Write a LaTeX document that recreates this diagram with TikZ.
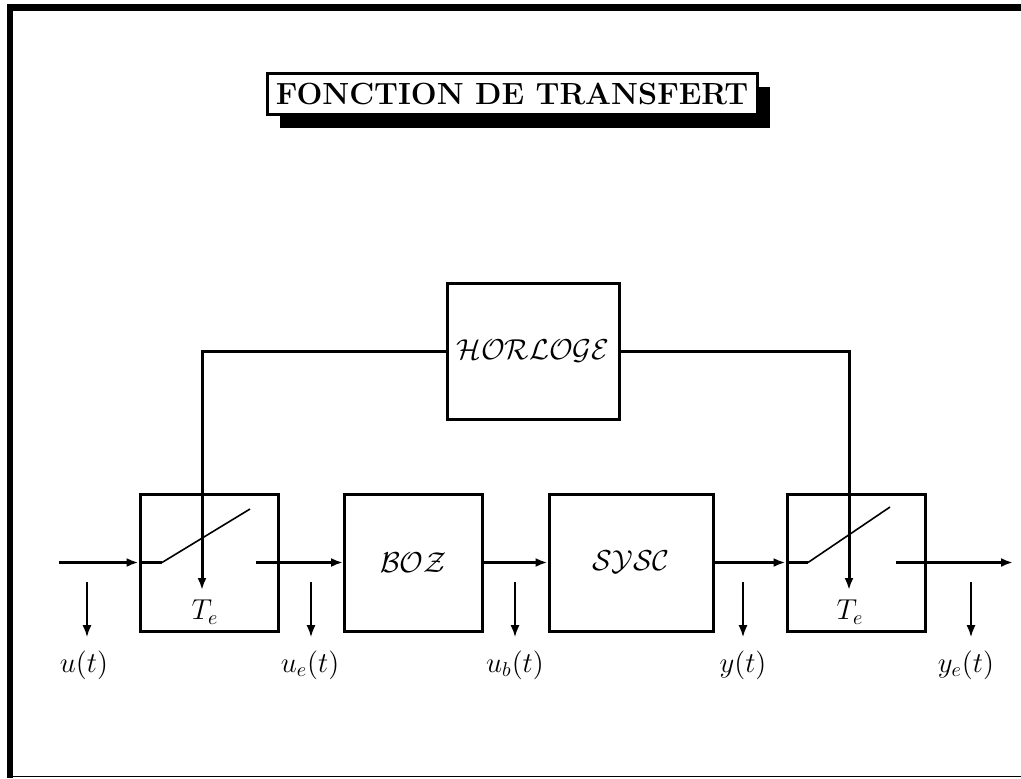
\documentclass[tikz,border=0pt]{standalone}
\usepackage{amsmath,amssymb}
\usepackage{tikz}
\usetikzlibrary{arrows.meta, positioning}
\usetikzlibrary{shadows}
\usetikzlibrary{calc}

\begin{document}
\begin{tikzpicture}[x=0.5pt, y=-0.5pt,
    bloc/.style={draw, line width=1.5pt, minimum width=69pt, minimum height=68.5pt, inner sep=0pt, font=\Large},
    sig/.style={line width=1.5pt, -{Latex[length=6pt, width=4.5pt]}},
    fil/.style={line width=1.5pt},
    interr/.style={line width=0.8pt},
    mesure/.style={line width=1pt, -{Latex[length=6pt, width=4.5pt]}},
    etiq/.style={font=\Large, inner sep=0pt}]
        \useasboundingbox (0,0) rectangle (1021,778);

        % cadre de la page
        \draw[line width=3.5pt] (7,7.5) -- (1021,7.5);
        \draw[line width=2.75pt] (9.8,4) -- (9.8,778);
        \draw[line width=0.75pt] (7,776.5) -- (1021,776.5);

        % titre
        \node[draw, fill=white, line width=1.5pt, font=\fontsize{15.3}{18}\selectfont\bfseries, minimum width=245pt, minimum height=20.5pt, inner sep=0pt,
              drop shadow={shadow xshift=6.5pt, shadow yshift=-7pt, opacity=1, fill=black}] (titre) at (512,93.5) {FONCTION DE TRANSFERT};

        % blocs
        \node[bloc] (ech1) at (209,562.5) {};
        \node[bloc] (boz) at (413.5,562.5) {$\mathcal{BOZ}$};
        \node[bloc, minimum width=82pt] (sysc) at (631,562.5) {$\mathcal{SYSC}$};
        \node[bloc] (ech2) at (856,562.5) {};
        \node[bloc, minimum width=86pt, minimum height=68pt, font=\fontsize{15.5}{18}\selectfont] (horloge) at (533,351) {$\mathcal{HORLOGE}$};

        \node[etiq] (te1) at (205,612) {$T_e$};
        \node[etiq] (te2) at (850,612) {$T_e$};

        % interrupteurs
        \coordinate (in1) at (162,562.5);
        \coordinate (sw1) at (250,509);
        \coordinate (out1) at (256,562.5);
        \coordinate (pt1) at (202,590);
        \coordinate (in2) at (808,562.5);
        \coordinate (sw2) at (890,507);
        \coordinate (out2) at (896,562.5);
        \coordinate (pt2) at (849,590);

        % entree et sortie
        \coordinate (entree) at (59,562.5);
        \coordinate (sortie) at (1013,562.5);

        % chaine directe
        \draw[sig] (entree) -- (ech1.west);
        \draw[fil] (ech1.west) -- (in1);
        \draw[interr] (in1) -- (sw1);
        \draw[sig] (out1) -- (boz.west);
        \draw[sig] (boz) -- (sysc);
        \draw[sig] (sysc) -- (ech2);
        \draw[fil] (ech2.west) -- (in2);
        \draw[interr] (in2) -- (sw2);
        \draw[sig] (out2) -- (sortie);

        % horloge
        \draw[sig] (horloge.west) -| (pt1);
        \draw[sig] (horloge.east) -| (pt2);

        % signaux
        \node[etiq] (lu) at (84,665) {$u(t)$};
        \node[etiq] (lue) at (310,665) {$u_e(t)$};
        \node[etiq] (lub) at (515,665) {$u_b(t)$};
        \node[etiq] (ly) at (743,665) {$y(t)$};
        \node[etiq] (lye) at (966,665) {$y_e(t)$};

        \coordinate (m1) at (87,582);
        \coordinate (m2) at (311,582);
        \coordinate (m3) at (515,582);
        \coordinate (m4) at (743,582);
        \coordinate (m5) at (971,582);
        \foreach \m/\l in {m1/lu, m2/lue, m3/lub, m4/ly, m5/lye}
            \draw[mesure] (\m) -- ($(\m |- \l.north)+(0,-13)$);
    \end{tikzpicture}
\end{document}
